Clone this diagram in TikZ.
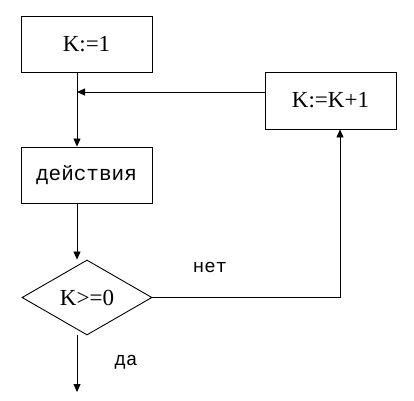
\documentclass[tikz,border=0pt]{standalone}
\usepackage{fontspec}
\setmainfont{Liberation Serif}
\newfontfamily\cyrfont{Liberation Mono}
\usetikzlibrary{arrows.meta, calc, shapes.geometric}

\tikzset{
	block/.style={draw, line width=0.9pt, minimum width=131pt, minimum height=56pt, inner sep=0pt, font=\fontsize{23}{23}\selectfont},
	cond/.style={draw, diamond, line width=0.9pt, minimum width=130pt, minimum height=75pt, aspect=1.73, inner sep=0pt, font=\fontsize{23}{23}\selectfont},
	lbl/.style={font=\cyrfont\fontsize{19}{19}\selectfont},
	arr/.style={line width=0.8pt, -{Triangle[length=8pt, width=7pt]}}
}

\begin{document}
\begin{tikzpicture}[x=1pt, y=-1pt]
	\useasboundingbox (0,0) rectangle (414,400);
	
	% blocks
	\node [block] (init) at (86.5,44) {K:=1};
	\node [block, minimum height=57pt] (inc) at (330.5,100.5) {K:=K+1};
	\node [block, font=\cyrfont\fontsize{21}{21}\selectfont] (act) at (86.5,175) {действия};
	\node [cond] (test) at (87,297.5) {K>=0};
	
	% helper points
	\coordinate (tx) at (77,0);
	\coordinate (rx) at (340,0);
	\coordinate (join) at (77,92);
	\coordinate (exit) at (77,392);
	
	% main line
	\draw [arr] (init.south -| tx) -- (act.north -| tx);
	\draw [arr] (act.south -| tx) -- (test.north -| tx);
	\draw [arr] (test.south -| tx) -- (exit);
	
	% loop back
	\draw [arr] (test.east) -| (inc.south -| rx);
	\draw [arr] (inc.west |- join) -- (join);
	
	% labels
	\node [lbl] (no) at (210,267) {нет};
	\node [lbl] (yes) at (126,362) {да};
\end{tikzpicture}
\end{document}
